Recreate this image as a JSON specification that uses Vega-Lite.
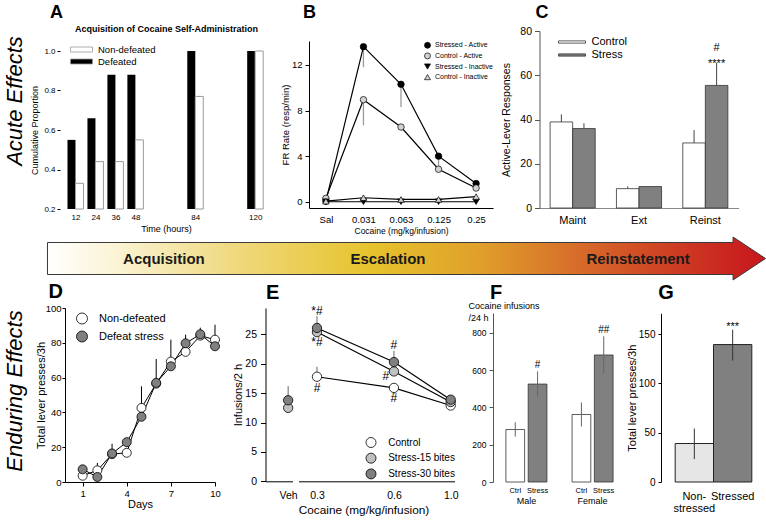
{
"$schema": "https://vega.github.io/schema/vega-lite/v6.json",
"padding": {"left": 0, "top": 3, "right": 0, "bottom": 0},
"background": "white",
"config": {
  "font": "Liberation Sans",
  "view": {"stroke": null},
  "axis": {"grid": false, "labelOverlap": false, "labelFlush": false, "labelFont": "Liberation Sans", "titleFont": "Liberation Sans", "titleFontWeight": "normal", "labelColor": "#000", "titleColor": "#000", "domainColor": "#000", "tickColor": "#000"},
  "legend": {"labelFont": "Liberation Sans", "labelColor": "#000", "padding": 0},
  "title": {"font": "Liberation Sans", "fontWeight": "bold", "color": "#000", "anchor": "start", "frame": "group"},
  "text": {"font": "Liberation Sans", "color": "#000"}
},
"datasets": {
  "acq": [
    {"hour": 12, "group": "Defeated", "value": 0.55}, {"hour": 12, "group": "Non-defeated", "value": 0.33},
    {"hour": 24, "group": "Defeated", "value": 0.66}, {"hour": 24, "group": "Non-defeated", "value": 0.44},
    {"hour": 36, "group": "Defeated", "value": 0.88}, {"hour": 36, "group": "Non-defeated", "value": 0.44},
    {"hour": 48, "group": "Defeated", "value": 0.88}, {"hour": 48, "group": "Non-defeated", "value": 0.55},
    {"hour": 84, "group": "Defeated", "value": 1.0}, {"hour": 84, "group": "Non-defeated", "value": 0.77},
    {"hour": 120, "group": "Defeated", "value": 1.0}, {"hour": 120, "group": "Non-defeated", "value": 1.0}
  ],
  "fr": [
    {"series": "Stressed - Active", "dose": "Sal", "value": 0.05},
    {"series": "Stressed - Active", "dose": "0.031", "value": 13.6},
    {"series": "Stressed - Active", "dose": "0.063", "value": 10.3},
    {"series": "Stressed - Active", "dose": "0.125", "value": 4.0},
    {"series": "Stressed - Active", "dose": "0.25", "value": 1.6},
    {"series": "Control - Active", "dose": "Sal", "value": 0.3},
    {"series": "Control - Active", "dose": "0.031", "value": 8.95},
    {"series": "Control - Active", "dose": "0.063", "value": 6.55},
    {"series": "Control - Active", "dose": "0.125", "value": 2.85},
    {"series": "Control - Active", "dose": "0.25", "value": 1.2},
    {"series": "Stressed - Inactive", "dose": "Sal", "value": 0.0},
    {"series": "Stressed - Inactive", "dose": "0.031", "value": 0.0},
    {"series": "Stressed - Inactive", "dose": "0.063", "value": 0.0},
    {"series": "Stressed - Inactive", "dose": "0.125", "value": 0.0},
    {"series": "Stressed - Inactive", "dose": "0.25", "value": 0.0},
    {"series": "Control - Inactive", "dose": "Sal", "value": 0.05},
    {"series": "Control - Inactive", "dose": "0.031", "value": 0.35},
    {"series": "Control - Inactive", "dose": "0.063", "value": 0.2},
    {"series": "Control - Inactive", "dose": "0.125", "value": 0.2},
    {"series": "Control - Inactive", "dose": "0.25", "value": 0.45}
  ],
  "frErr": [
    {"series": "Stressed - Active", "dose": "0.031", "value": 13.6, "lo": 11.8},
    {"series": "Stressed - Active", "dose": "0.063", "value": 10.3, "lo": 8.3},
    {"series": "Stressed - Active", "dose": "0.125", "value": 4.0, "lo": 3.0},
    {"series": "Control - Active", "dose": "0.031", "value": 8.95, "lo": 6.7}
  ],
  "reinst": [
    {"phase": "Maint", "group": "Control", "value": 38.9, "hi": 42.3},
    {"phase": "Maint", "group": "Stress", "value": 35.9, "hi": 38.3},
    {"phase": "Ext", "group": "Control", "value": 8.75, "hi": 9.8},
    {"phase": "Ext", "group": "Stress", "value": 9.7, "hi": 9.7},
    {"phase": "Reinst", "group": "Control", "value": 29.4, "hi": 35.2},
    {"phase": "Reinst", "group": "Stress", "value": 55.4, "hi": 65.7}
  ],
  "reinstAnn": [
    {"phase": "Reinst", "group": "Stress", "hi": 65.7, "label": "#\n****"}
  ],
  "stages": [
    {"stage": "Acquisition", "pos": 21.4},
    {"stage": "Escalation", "pos": 50.65},
    {"stage": "Reinstatement", "pos": 83.3}
  ],
  "dpts": [
    {"grp": "Non-defeated", "day": 1, "value": 3.6}, {"grp": "Non-defeated", "day": 2, "value": 6.7},
    {"grp": "Non-defeated", "day": 3, "value": 16.0}, {"grp": "Non-defeated", "day": 4, "value": 16.8},
    {"grp": "Non-defeated", "day": 5, "value": 42.6}, {"grp": "Non-defeated", "day": 6, "value": 56.5},
    {"grp": "Non-defeated", "day": 7, "value": 69.2}, {"grp": "Non-defeated", "day": 8, "value": 74.8},
    {"grp": "Non-defeated", "day": 9, "value": 84.1}, {"grp": "Non-defeated", "day": 10, "value": 81.8},
    {"grp": "Defeat stress", "day": 1, "value": 7.3}, {"grp": "Defeat stress", "day": 2, "value": 2.9},
    {"grp": "Defeat stress", "day": 3, "value": 16.4}, {"grp": "Defeat stress", "day": 4, "value": 22.9},
    {"grp": "Defeat stress", "day": 5, "value": 37.5}, {"grp": "Defeat stress", "day": 6, "value": 57.0},
    {"grp": "Defeat stress", "day": 7, "value": 66.5}, {"grp": "Defeat stress", "day": 8, "value": 79.7},
    {"grp": "Defeat stress", "day": 9, "value": 84.9}, {"grp": "Defeat stress", "day": 10, "value": 78.0}
  ],
  "dErr": [
    {"grp": "Non-defeated", "day": 2, "value": 6.7, "hi": 11.0},
    {"grp": "Defeat stress", "day": 3, "value": 16.4, "hi": 22.0},
    {"grp": "Defeat stress", "day": 5, "value": 37.5, "hi": 55.0},
    {"grp": "Defeat stress", "day": 6, "value": 57.0, "hi": 70.7},
    {"grp": "Defeat stress", "day": 7, "value": 66.5, "hi": 81.8},
    {"grp": "Defeat stress", "day": 8, "value": 79.7, "hi": 84.7},
    {"grp": "Defeat stress", "day": 9, "value": 84.9, "hi": 88.7},
    {"grp": "Non-defeated", "day": 10, "value": 81.8, "hi": 90.4}
  ],
  "eVeh": [
    {"series": "Stress-15 bites", "dose": 0, "value": 12.5},
    {"series": "Stress-30 bites", "dose": 0, "value": 13.8}
  ],
  "eVehErr": [
    {"series": "Stress-30 bites", "dose": 0, "value": 13.8, "hi": 16.2}
  ],
  "ePts": [
    {"series": "Control", "dose": 0.3, "value": 17.8}, {"series": "Control", "dose": 0.6, "value": 15.9}, {"series": "Control", "dose": 1.0, "value": 12.9},
    {"series": "Stress-15 bites", "dose": 0.3, "value": 25.4}, {"series": "Stress-15 bites", "dose": 0.6, "value": 18.7}, {"series": "Stress-15 bites", "dose": 1.0, "value": 13.5},
    {"series": "Stress-30 bites", "dose": 0.3, "value": 26.1}, {"series": "Stress-30 bites", "dose": 0.6, "value": 20.3}, {"series": "Stress-30 bites", "dose": 1.0, "value": 13.9}
  ],
  "eErr": [
    {"series": "Control", "dose": 0.3, "lo": 17.8, "hi": 19.5},
    {"series": "Stress-30 bites", "dose": 0.3, "lo": 26.1, "hi": 28.1},
    {"series": "Stress-30 bites", "dose": 0.6, "lo": 20.3, "hi": 22.2},
    {"series": "Control", "dose": 0.6, "lo": 14.8, "hi": 15.9}
  ],
  "eAnn": [
    {"dose": 0.3, "y": 29.0, "label": "*#"},
    {"dose": 0.3, "y": 23.7, "label": "*#"},
    {"dose": 0.3, "y": 15.9, "label": "#"},
    {"dose": 0.6, "y": 23.2, "label": "#"},
    {"dose": 0.6, "y": 14.2, "label": "#"}
  ],
  "eAnnL": [
    {"dose": 0.6, "y": 18.0, "label": "#"}
  ],
  "sexd": [
    {"sex": "Male", "grp": "Ctrl", "value": 281.6, "lo": 244, "hi": 321, "ann": ""},
    {"sex": "Male", "grp": "Stress", "value": 525.6, "lo": 459, "hi": 594, "ann": "#"},
    {"sex": "Female", "grp": "Ctrl", "value": 362.3, "lo": 298, "hi": 427, "ann": ""},
    {"sex": "Female", "grp": "Stress", "value": 681.6, "lo": 581, "hi": 782, "ann": "##"}
  ],
  "gd": [
    {"cond": "Non-stressed", "value": 39.0, "lo": 23.2, "hi": 54.2, "ann": ""},
    {"cond": "Stressed", "value": 139.3, "lo": 123.1, "hi": 154.4, "ann": "***"}
  ]
},
"spacing": 0,
"resolve": {"scale": {"fill": "independent", "shape": "independent", "xOffset": "independent"}},
"vconcat": [
  {
    "spacing": 8.5,
    "resolve": {"scale": {"fill": "independent", "shape": "independent", "xOffset": "independent"}},
    "hconcat": [
      {
        "spacing": 0,
        "resolve": {"scale": {"fill": "independent", "shape": "independent", "xOffset": "independent"}},
        "hconcat": [
          {
            "width": 30, "height": 140,
            "data": {"values": [{"t": "Acute Effects"}]},
            "mark": {"type": "text", "angle": 270, "fontSize": 22, "fontStyle": "italic", "color": "#000"},
            "encoding": {"text": {"field": "t", "type": "nominal"}}
          },
          {
            "spacing": 8,
            "resolve": {"scale": {"fill": "independent", "shape": "independent", "xOffset": "independent"}},
            "hconcat": [
              {
                "width": 212, "height": 178,
                "title": {"text": "A", "fontSize": 18, "dx": -10, "offset": 3.3},
                "data": {"name": "acq"},
                "layer": [
                  {
                    "transform": [{"filter": "datum.group === 'Defeated'"}],
                    "mark": {"type": "bar", "width": 8, "xOffset": -4},
                    "encoding": {
                      "x": {"field": "hour", "type": "quantitative", "scale": {"domain": [5.7, 127.1], "nice": false, "zero": false},
                            "axis": {"orient": "bottom", "values": [12, 24, 36, 48, 84, 120], "domain": false, "ticks": false, "labelPadding": 4, "labelFontSize": 8, "labelOverlap": false, "labelFlush": false, "title": "Time (hours)", "titleFontSize": 9, "titlePadding": 3.5}},
                      "y": {"field": "value", "type": "quantitative", "scale": {"domain": [0.2, 1.0], "range": [178, 20], "nice": false, "zero": false},
                            "axis": {"tickCount": 4, "format": ".1f", "domain": false, "tickSize": 3, "labelPadding": 2, "labelFontSize": 8, "labelOverlap": false, "labelFlush": false, "title": "Cumulative Proportion", "titleFontSize": 9, "titlePadding": 4}},
                      "y2": {"datum": 0.2},
                      "fill": {"field": "group", "type": "nominal", "scale": {"domain": ["Non-defeated", "Defeated"], "range": ["#ffffff", "#000000"]},
                               "legend": {"orient": "none", "legendX": 16, "legendY": 13, "title": null, "symbolType": "M-2.2,-0.5H2.2V0.5H-2.2Z", "symbolSize": 100, "symbolStrokeColor": "#999999", "symbolStrokeWidth": 0.8, "labelFontSize": 9.5, "labelOffset": 11, "rowPadding": 2}}
                    }
                  },
                  {
                    "transform": [{"filter": "datum.group === 'Non-defeated'"}],
                    "mark": {"type": "bar", "width": 8, "xOffset": 4, "stroke": "#9a9a9a", "strokeWidth": 1},
                    "encoding": {
                      "x": {"field": "hour", "type": "quantitative",
                            "axis": {"orient": "top", "labels": false, "ticks": false, "domain": false, "title": "Acquisition of Cocaine Self-Administration", "titleFontSize": 9, "titleFontWeight": "bold", "titlePadding": -2.8}},
                      "y": {"field": "value", "type": "quantitative"},
                      "y2": {"datum": 0.2},
                      "fill": {"field": "group", "type": "nominal"}
                    }
                  }
                ],
                "resolve": {"axis": {"x": "independent"}}
              },
              {
                "width": 184, "height": 177,
                "title": {"text": "B", "fontSize": 18, "dx": -6, "offset": 9.5},
                "layer": [
                  {
                    "data": {"name": "frErr"},
                    "mark": {"type": "rule", "color": "#9a9a9a", "strokeWidth": 1.3},
                    "encoding": {
                      "x": {"field": "dose", "type": "nominal", "scale": {"type": "point", "domain": ["Sal", "0.031", "0.063", "0.125", "0.25"], "padding": 0.45},
                            "axis": {"labelAngle": 0, "ticks": false, "labelPadding": 6, "labelFontSize": 9.5, "title": "Cocaine (mg/kg/infusion)", "titleFontSize": 8.5, "titlePadding": 2.5}},
                      "y": {"field": "value", "type": "quantitative", "scale": {"domain": [-0.55, 14.1], "range": [177, 10], "nice": false, "zero": false},
                            "axis": {"values": [0, 4, 8, 12], "tickSize": 4, "labelPadding": 3, "labelFontSize": 9.5, "labelOverlap": false, "title": "FR Rate (resp/min)", "titleFontSize": 9.5, "titlePadding": 1}},
                      "y2": {"field": "lo"}
                    }
                  },
                  {
                    "data": {"name": "fr"},
                    "mark": {"type": "line", "color": "#000", "strokeWidth": 1.2},
                    "encoding": {
                      "x": {"field": "dose", "type": "nominal"},
                      "y": {"field": "value", "type": "quantitative"},
                      "detail": {"field": "series", "type": "nominal"},
                      "order": {"value": null}
                    }
                  },
                  {
                    "data": {"name": "fr"},
                    "mark": {"type": "point", "filled": true, "size": 42, "stroke": "#000", "strokeWidth": 0.7, "opacity": 1},
                    "encoding": {
                      "x": {"field": "dose", "type": "nominal"},
                      "y": {"field": "value", "type": "quantitative"},
                      "fill": {"field": "series", "type": "nominal",
                               "scale": {"domain": ["Stressed - Active", "Control - Active", "Stressed - Inactive", "Control - Inactive"], "range": ["#000000", "#d3d3d3", "#000000", "#d3d3d3"]},
                               "legend": {"orient": "none", "legendX": 115, "legendY": 10.8, "title": null, "labelFontSize": 7, "symbolSize": 36, "symbolStrokeColor": "#000", "symbolStrokeWidth": 0.7, "rowPadding": 1.6, "labelOffset": 4}},
                      "shape": {"field": "series", "type": "nominal",
                                "scale": {"domain": ["Stressed - Active", "Control - Active", "Stressed - Inactive", "Control - Inactive"], "range": ["circle", "circle", "triangle-down", "triangle-up"]}}
                    }
                  }
                ]
              }
            ]
          }
        ]
      },
      {
        "width": 199, "height": 177,
        "title": {"text": "C", "fontSize": 18, "dx": -4, "offset": 4.25},
        "layer": [
          {
            "data": {"name": "reinst"},
            "mark": {"type": "rule", "color": "#444", "strokeWidth": 1},
            "encoding": {
              "x": {"field": "phase", "type": "nominal", "scale": {"domain": ["Maint", "Ext", "Reinst"], "paddingInner": 0.32, "paddingOuter": 0.16},
                    "axis": {"labelAngle": 0, "ticks": false, "domainColor": "#888", "labelPadding": 6, "labelFontSize": 11, "title": null}},
              "xOffset": {"field": "group", "type": "nominal", "scale": {"domain": ["Control", "Stress"], "paddingInner": 0}},
              "y": {"field": "value", "type": "quantitative", "scale": {"domain": [0, 80], "nice": false},
                    "axis": {"values": [0, 10, 20, 30, 40, 50, 60, 70, 80], "labelExpr": "datum.value % 20 === 0 ? datum.label : ''", "labelOverlap": false, "tickSize": 5, "labelPadding": 3, "labelFontSize": 10.5, "domainColor": "#555", "tickColor": "#555", "title": "Active-Lever Responses", "titleFontSize": 10.5, "titlePadding": 8}},
              "y2": {"field": "hi"}
            }
          },
          {
            "data": {"name": "reinst"},
            "mark": {"type": "bar", "stroke": "#333", "strokeWidth": 0.8},
            "encoding": {
              "x": {"field": "phase", "type": "nominal"},
              "xOffset": {"field": "group", "type": "nominal"},
              "y": {"field": "value", "type": "quantitative"},
              "fill": {"field": "group", "type": "nominal", "scale": {"domain": ["Control", "Stress"], "range": ["#ffffff", "#808080"]},
                       "legend": {"orient": "none", "legendX": 27, "legendY": 5.5, "title": null, "symbolType": "M-2.7,-0.225H2.7V0.225H-2.7Z", "symbolSize": 100, "symbolStrokeColor": "#333", "symbolStrokeWidth": 0.8, "labelFontSize": 11, "labelOffset": 14, "rowPadding": 1}}
            }
          },
          {
            "data": {"name": "reinstAnn"},
            "mark": {"type": "text", "baseline": "bottom", "lineBreak": "\n", "fontSize": 11, "lineHeight": 15.5, "dy": -9.5},
            "encoding": {
              "x": {"field": "phase", "type": "nominal"},
              "xOffset": {"field": "group", "type": "nominal"},
              "y": {"field": "hi", "type": "quantitative"},
              "text": {"field": "label", "type": "nominal"}
            }
          }
        ]
      }
    ]
  },
  {
    "width": 766, "height": 43,
    "layer": [
      {
        "data": {"values": [{"shape": "arrow"}]},
        "mark": {"type": "point", "shape": "M-0.876,-0.04178L0.914,-0.04178L0.914,-0.0561L0.9987,0L0.914,0.0561L0.914,0.04178L-0.876,0.04178Z", "size": 586756, "filled": true, "opacity": 1, "stroke": "#3a3a3a", "strokeWidth": 1,
                 "fill": {"gradient": "linear", "x1": 0, "y1": 0, "x2": 1, "y2": 0, "stops": [
                   {"offset": 0, "color": "#ffffff"}, {"offset": 0.1, "color": "#fbf3d2"}, {"offset": 0.25, "color": "#f0da83"},
                   {"offset": 0.45, "color": "#e6c32d"}, {"offset": 0.6, "color": "#e0a02a"}, {"offset": 0.75, "color": "#d6682a"},
                   {"offset": 0.88, "color": "#cd3a22"}, {"offset": 1, "color": "#c8161d"}]}},
        "encoding": {}
      },
      {
        "data": {"name": "stages"},
        "mark": {"type": "text", "fontSize": 15, "fontWeight": "bold", "color": "#1a1a1a"},
        "encoding": {
          "x": {"field": "pos", "type": "quantitative", "scale": {"domain": [0, 100], "nice": false}, "axis": null},
          "text": {"field": "stage", "type": "nominal"}
        }
      }
    ]
  },
  {
    "spacing": 9.5,
    "resolve": {"scale": {"fill": "independent", "shape": "independent", "xOffset": "independent"}},
    "hconcat": [
      {
        "spacing": 5,
        "resolve": {"scale": {"fill": "independent", "shape": "independent", "xOffset": "independent"}},
        "hconcat": [
          {
            "width": 30, "height": 166,
            "data": {"values": [{"t": "Enduring Effects"}]},
            "mark": {"type": "text", "angle": 270, "fontSize": 22, "fontStyle": "italic", "color": "#000"},
            "encoding": {"text": {"field": "t", "type": "nominal"}}
          },
          {
            "width": 150, "height": 174,
            "title": {"text": "D", "fontSize": 20, "dx": -16.5, "offset": 0.7},
            "layer": [
              {
                "data": {"name": "dErr"},
                "mark": {"type": "rule", "color": "#000", "strokeWidth": 1},
                "encoding": {
                  "x": {"field": "day", "type": "quantitative", "scale": {"domain": [-0.2, 10], "nice": false, "zero": false},
                        "axis": {"values": [1, 4, 7, 10], "tickSize": 4, "labelPadding": 2, "labelFontSize": 9.5, "labelOverlap": false, "labelFlush": false, "title": "Days", "titleFontSize": 11, "titlePadding": 1}},
                  "y": {"field": "value", "type": "quantitative", "scale": {"domain": [0, 100], "nice": false},
                        "axis": {"tickCount": 4, "labelOverlap": false, "labelFlush": false, "tickSize": 3, "labelPadding": 1, "labelFontSize": 9.5, "title": "Total lever presses/3h", "titleFontSize": 11, "titlePadding": -1.5}},
                  "y2": {"field": "hi"}
                }
              },
              {
                "data": {"name": "dpts"},
                "mark": {"type": "line", "color": "#000", "strokeWidth": 1},
                "encoding": {
                  "x": {"field": "day", "type": "quantitative"},
                  "y": {"field": "value", "type": "quantitative"},
                  "detail": {"field": "grp", "type": "nominal"}
                }
              },
              {
                "data": {"name": "dpts"},
                "mark": {"type": "point", "filled": true, "size": 81, "stroke": "#000", "strokeWidth": 0.8, "opacity": 1},
                "encoding": {
                  "x": {"field": "day", "type": "quantitative"},
                  "y": {"field": "value", "type": "quantitative"},
                  "fill": {"field": "grp", "type": "nominal", "scale": {"domain": ["Non-defeated", "Defeat stress"], "range": ["#ffffff", "#808080"]},
                           "legend": {"orient": "none", "legendX": 11, "legendY": 4.5, "title": null, "symbolType": "circle", "symbolSize": 121, "symbolStrokeColor": "#000", "symbolStrokeWidth": 0.8, "labelFontSize": 11, "labelOffset": 11, "rowPadding": 2}}
                }
              }
            ]
          }
        ]
      },
      {
        "spacing": 0,
        "resolve": {"scale": {"fill": "independent", "shape": "independent", "xOffset": "independent"}},
        "hconcat": [
          {
            "width": 27, "height": 173.3,
            "title": {"text": "E", "fontSize": 20, "dx": 0.5, "offset": 5.4},
            "layer": [
              {
                "data": {"name": "eVehErr"},
                "mark": {"type": "rule", "color": "#666", "strokeWidth": 1},
                "encoding": {
                  "x": {"field": "dose", "type": "quantitative", "scale": {"domain": [-0.839, 0.161], "nice": false, "zero": false},
                        "axis": {"values": [0], "labelExpr": "'Veh'", "ticks": false, "labelPadding": 9, "labelFontSize": 10.5, "labelOverlap": false, "labelFlush": false, "title": null}},
                  "y": {"field": "value", "type": "quantitative", "scale": {"domain": [0, 29.5], "nice": false},
                        "axis": {"tickCount": 6, "labelOverlap": false, "labelFlush": false, "tickSize": 5, "labelPadding": 4, "labelFontSize": 10.5, "title": "Infusions/2 h", "titleFontSize": 11, "titlePadding": 1.5}},
                  "y2": {"field": "hi"}
                }
              },
              {
                "data": {"name": "eVeh"},
                "mark": {"type": "point", "filled": true, "size": 87, "stroke": "#000", "strokeWidth": 0.8, "opacity": 1},
                "encoding": {
                  "x": {"field": "dose", "type": "quantitative"},
                  "y": {"field": "value", "type": "quantitative"},
                  "fill": {"field": "series", "type": "nominal", "scale": {"domain": ["Control", "Stress-15 bites", "Stress-30 bites"], "range": ["#ffffff", "#c0c0c0", "#808080"]}, "legend": null}
                }
              }
            ]
          },
          {
            "width": 156, "height": 173.3,
            "layer": [
              {
                "data": {"name": "eErr"},
                "mark": {"type": "rule", "color": "#666", "strokeWidth": 1},
                "encoding": {
                  "x": {"field": "dose", "type": "quantitative", "scale": {"type": "log", "domain": [0.254, 1.035], "nice": false},
                        "axis": {"values": [0.3, 0.6, 1.0], "format": ".1f", "ticks": false, "labelPadding": 9, "labelFontSize": 10.5, "labelOverlap": false, "labelFlush": false, "title": "Cocaine (mg/kg/infusion)", "titleFontSize": 11.8, "titleX": 65, "titlePadding": 4}},
                  "y": {"field": "lo", "type": "quantitative", "scale": {"domain": [0, 29.5], "nice": false}, "axis": null},
                  "y2": {"field": "hi"}
                }
              },
              {
                "data": {"name": "ePts"},
                "mark": {"type": "line", "color": "#000", "strokeWidth": 1.2},
                "encoding": {
                  "x": {"field": "dose", "type": "quantitative"},
                  "y": {"field": "value", "type": "quantitative"},
                  "detail": {"field": "series", "type": "nominal"}
                }
              },
              {
                "data": {"name": "ePts"},
                "mark": {"type": "point", "filled": true, "size": 87, "stroke": "#000", "strokeWidth": 0.8, "opacity": 1},
                "encoding": {
                  "x": {"field": "dose", "type": "quantitative"},
                  "y": {"field": "value", "type": "quantitative"},
                  "fill": {"field": "series", "type": "nominal", "scale": {"domain": ["Control", "Stress-15 bites", "Stress-30 bites"], "range": ["#ffffff", "#c0c0c0", "#808080"]},
                           "legend": {"orient": "none", "legendX": 67, "legendY": 129, "title": null, "symbolType": "circle", "symbolSize": 100, "symbolStrokeColor": "#000", "symbolStrokeWidth": 0.8, "labelFontSize": 10, "labelOffset": 11.7, "rowPadding": 0.7}}
                }
              },
              {
                "data": {"name": "eAnn"},
                "mark": {"type": "text", "fontSize": 12, "baseline": "middle"},
                "encoding": {
                  "x": {"field": "dose", "type": "quantitative"},
                  "y": {"field": "y", "type": "quantitative"},
                  "text": {"field": "label", "type": "nominal"}
                }
              },
              {
                "data": {"name": "eAnnL"},
                "mark": {"type": "text", "fontSize": 12, "baseline": "middle", "dx": -8},
                "encoding": {
                  "x": {"field": "dose", "type": "quantitative"},
                  "y": {"field": "y", "type": "quantitative"},
                  "text": {"field": "label", "type": "nominal"}
                }
              }
            ]
          }
        ]
      },
      {
        "spacing": 0,
        "resolve": {"scale": {"fill": "independent", "shape": "independent", "xOffset": "independent"}},
        "hconcat": [
          {
            "width": 133, "height": 174,
            "title": {"text": "F", "fontSize": 20, "dx": -3, "offset": -1},
            "data": {"name": "sexd"},
            "layer": [
              {
                "mark": {"type": "bar", "stroke": "#333", "strokeWidth": 0.8},
                "encoding": {
                  "x": {"field": "sex", "type": "nominal", "scale": {"domain": ["Male", "Female"], "paddingInner": 0.38, "paddingOuter": 0.195},
                        "axis": {"labelAngle": 0, "ticks": false, "domain": false, "labelPadding": 14.5, "labelFontSize": 9, "title": null}},
                  "xOffset": {"field": "grp", "type": "nominal", "scale": {"domain": ["Ctrl", "Stress"], "paddingInner": 0.16}},
                  "y": {"field": "value", "type": "quantitative", "scale": {"domain": [0, 907], "range": [174, 5], "nice": false},
                        "axis": {"values": [0, 200, 400, 600, 800], "labelOverlap": false, "tickSize": 4, "labelPadding": 3, "labelFontSize": 8.5, "domainColor": "#555", "tickColor": "#555",
                                 "title": ["Cocaine infusions", "/24 h"], "titleAngle": 0, "titleAlign": "left", "titleBaseline": "alphabetic", "titleX": -25, "titleY": 0.5, "titleFontSize": 9, "titleLineHeight": 12}},
                  "fill": {"field": "grp", "type": "nominal", "scale": {"domain": ["Ctrl", "Stress"], "range": ["#ffffff", "#808080"]}, "legend": null}
                }
              },
              {
                "mark": {"type": "rule", "color": "#666", "strokeWidth": 1},
                "encoding": {
                  "x": {"field": "sex", "type": "nominal"},
                  "xOffset": {"field": "grp", "type": "nominal"},
                  "y": {"field": "lo", "type": "quantitative"},
                  "y2": {"field": "hi"}
                }
              },
              {
                "mark": {"type": "text", "baseline": "top", "fontSize": 7.5, "dy": 5},
                "encoding": {
                  "x": {"field": "sex", "type": "nominal"},
                  "xOffset": {"field": "grp", "type": "nominal"},
                  "y": {"datum": 0},
                  "text": {"field": "grp", "type": "nominal"}
                }
              },
              {
                "mark": {"type": "text", "baseline": "bottom", "fontSize": 10, "dy": -1},
                "encoding": {
                  "x": {"field": "sex", "type": "nominal"},
                  "xOffset": {"field": "grp", "type": "nominal"},
                  "y": {"field": "hi", "type": "quantitative"},
                  "text": {"field": "ann", "type": "nominal"}
                }
              }
            ]
          },
          {
            "width": 105, "height": 174,
            "title": {"text": "G", "fontSize": 20, "dx": -2.7, "offset": 5.4},
            "data": {"name": "gd"},
            "layer": [
              {
                "mark": {"type": "bar", "stroke": "#222", "strokeWidth": 1},
                "encoding": {
                  "x": {"field": "cond", "type": "nominal", "scale": {"domain": ["Non-stressed", "Stressed"], "paddingInner": 0, "paddingOuter": 0.37},
                        "axis": {"labelAngle": 0, "ticks": false, "domain": false, "labelPadding": 8.5, "labelFontSize": 11, "labelBaseline": "top", "labelLineHeight": 12.3,
                                 "labelExpr": "datum.value === 'Non-stressed' ? ['Non-', 'stressed'] : datum.label", "title": null}},
                  "y": {"field": "value", "type": "quantitative", "scale": {"domain": [0, 171], "range": [174, 5.3], "nice": false},
                        "axis": {"values": [0, 50, 100, 150], "labelOverlap": false, "tickSize": 3, "labelPadding": 3, "labelFontSize": 10, "title": "Total lever presses/3h", "titleFontSize": 11, "titlePadding": 1}},
                  "fill": {"field": "cond", "type": "nominal", "scale": {"domain": ["Non-stressed", "Stressed"], "range": ["#e6e6e6", "#808080"]}, "legend": null}
                }
              },
              {
                "mark": {"type": "rule", "color": "#333", "strokeWidth": 1},
                "encoding": {
                  "x": {"field": "cond", "type": "nominal"},
                  "y": {"field": "lo", "type": "quantitative"},
                  "y2": {"field": "hi"}
                }
              },
              {
                "mark": {"type": "text", "baseline": "bottom", "fontSize": 11, "dy": 2},
                "encoding": {
                  "x": {"field": "cond", "type": "nominal"},
                  "y": {"field": "hi", "type": "quantitative"},
                  "text": {"field": "ann", "type": "nominal"}
                }
              }
            ]
          }
        ]
      }
    ]
  }
]
}
